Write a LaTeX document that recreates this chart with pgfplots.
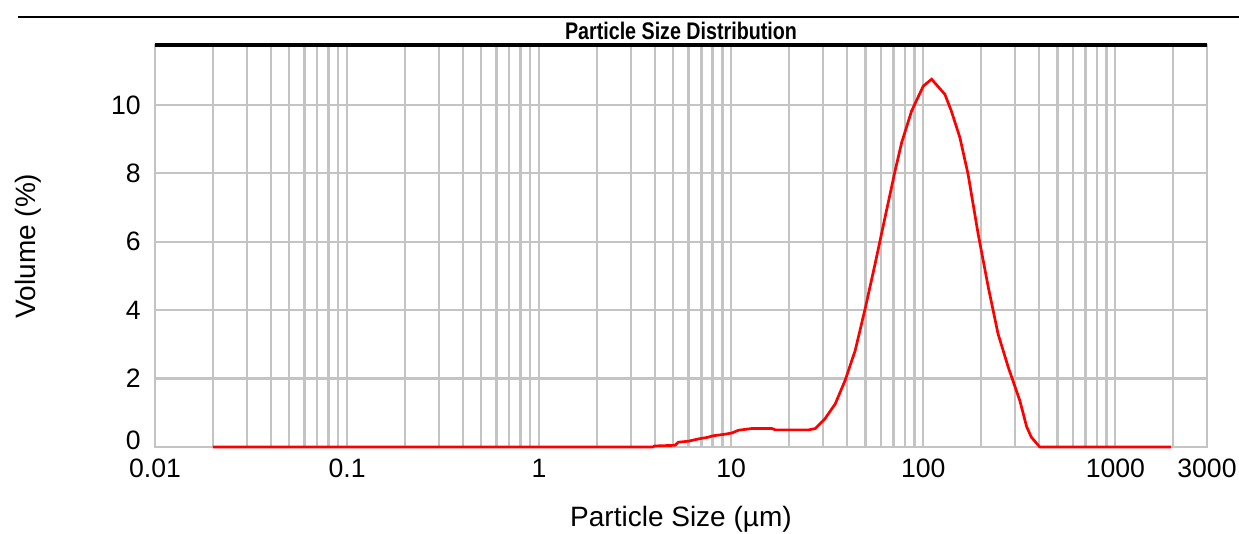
\documentclass[border=0pt]{standalone}
\usepackage{pgfplots}
\pgfplotsset{compat=1.18}
\usepackage{fontspec}
\setmainfont{Liberation Sans}
\newfontfamily\narrowbold[FakeStretch=0.82]{Liberation Sans Bold}

\definecolor{gridgray}{RGB}{196,196,196}

\begin{document}
\begin{tikzpicture}
% page frame: 1239 x 534 px at 0.5pt per px
\useasboundingbox (0,0) rectangle (619.5pt,-267pt);
\draw[line width=1pt] (9pt,-8.5pt) -- (619.5pt,-8.5pt);

\begin{axis}[
    at={(77.5pt,-223.5pt)}, anchor=south west,
    scale only axis,
    width=526pt, height=201pt,
    xmode=log,
    xmin=0.01, xmax=3000,
    ymin=0, ymax=11.75,
    xtick={0.01,0.1,1,10,100,1000,3000},
    xticklabels={0.01,0.1,1,10,100,1000,3000},
    minor xtick={0.02,0.03,0.04,0.05,0.06,0.07,0.08,0.09,
                 0.2,0.3,0.4,0.5,0.6,0.7,0.8,0.9,
                 2,3,4,5,6,7,8,9,
                 20,30,40,50,60,70,80,90,
                 200,300,400,500,600,700,800,900,2000},
    ytick={2,4,6,8,10},
    extra y ticks={0},
    extra y tick style={yticklabel style={yshift=3.5pt}},
    xmajorgrids, xminorgrids, ymajorgrids,
    grid style={gridgray, line width=1.1pt},
    minor grid style={gridgray, line width=1.1pt},
    axis line style={gridgray, line width=1.1pt},
    tick style={draw=none},
    /pgf/number format/assume math mode=true,
    tick label style={font=\fontsize{13.3pt}{15pt}\selectfont},
    xticklabel style={anchor=center, yshift=-10.5pt},
    yticklabel style={anchor=east, inner sep=0pt, xshift=-7pt},
    label style={font=\fontsize{14pt}{16pt}\selectfont},
    xlabel={Particle Size (µm)},
    ylabel={Volume (\%)},
    x label style={at={(axis description cs:0.5,-0.18)}, anchor=center},
    y label style={at={(axis description cs:-0.1207,0.5)}, anchor=center},
    clip=false,
]
\addplot[red, line width=1.35pt] table[row sep=crcr] {
    x y\\
    0.02 0\\
    3.9 0\\
    4.0 0.03\\
    5.1 0.05\\
    5.3 0.14\\
    6.0 0.17\\
    6.8 0.24\\
    7.5 0.28\\
    8.1 0.33\\
    9.2 0.37\\
    10.1 0.41\\
    10.9 0.49\\
    12.8 0.54\\
    16.3 0.54\\
    17 0.50\\
    25.3 0.50\\
    27.4 0.54\\
    30.8 0.83\\
    34.8 1.26\\
    39.2 1.95\\
    44.2 2.82\\
    49.8 4.04\\
    56.1 5.35\\
    63.2 6.71\\
    71.3 8.07\\
    77.2 8.90\\
    86.9 9.82\\
    100 10.55\\
    110.5 10.75\\
    129.5 10.31\\
    140 9.82\\
    155 9.05\\
    171 7.98\\
    193 6.23\\
    218 4.67\\
    245 3.31\\
    277 2.33\\
    318 1.36\\
    345 0.60\\
    365 0.29\\
    404 0\\
    1950 0\\
};
\draw[black, line width=2pt] (rel axis cs:0,1) -- (rel axis cs:1,1);
\end{axis}

\node[font=\narrowbold\fontsize{12pt}{14pt}\selectfont] at (340.5pt,-15.5pt) {Particle Size Distribution};
\end{tikzpicture}
\end{document}
